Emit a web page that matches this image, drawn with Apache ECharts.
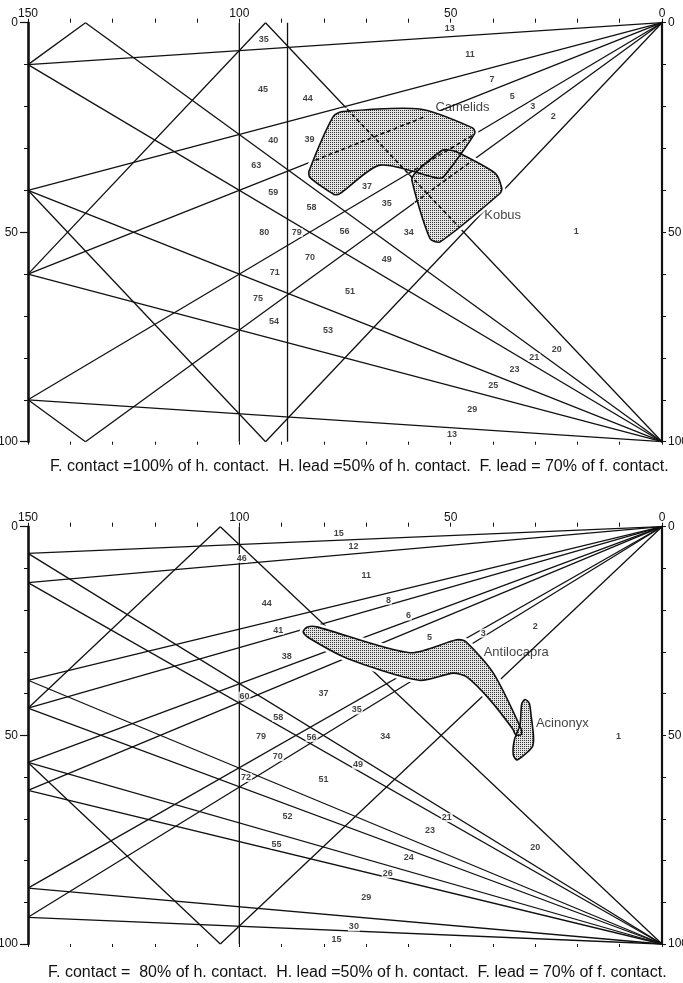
<!DOCTYPE html>
<html>
<head>
<meta charset="utf-8">
<script src="https://cdn.jsdelivr.net/npm/echarts@6/dist/echarts.min.js"></script>
<style>
  html, body { margin: 0; background: #fff; }
  #main { width: 683px; height: 983px; }
</style>
</head>
<body>
<div id="main"></div>
<script>
// axis values
var xTickLabels = [150, 100, 50, 0];
var yTickLabels = [0, 50, 100];

// upper diagram: segments [x1, y1, x2, y2]
var topLines = [
  [150, 10, 0, 0], [150, 40, 0, 0], [150, 60, 0, 0], [150, 90, 0, 0],
  [136.4, 100, 0, 0], [93.8, 100, 0, 0],
  [150, 10, 0, 100], [150, 40, 0, 100], [150, 60, 0, 100], [150, 90, 0, 100],
  [136.4, 0, 0, 100], [93.8, 0, 0, 100],
  [150, 10, 136.4, 0], [150, 60, 93.8, 0], [150, 90, 136.4, 100], [150, 40, 93.8, 100],
  [100, 0, 100, 100], [88.6, 0, 88.6, 100]
];
// parts of lines seen through the shaded areas
var topDashed = [
  [82, 32.8, 56, 22.4],
  [74.5, 20.6, 48, 48.8],
  [60, 36, 44.5, 26.7],
  [58.5, 42.9, 45, 33]
];
var camelids = [[77.8, 22.4], [75.5, 21.2], [57.3, 20.6], [44.8, 25.1], [44.3, 26.4], [51.7, 36.8],
  [53.2, 37.1], [66.7, 34], [76.2, 40.8], [77.6, 41], [83.3, 36.9], [83.5, 35.4]];
var kobus = [[50.5, 30.4], [48.6, 30.8], [39.5, 35.9], [37.9, 39.5], [38.3, 40.7], [52.5, 52.3],
  [54.9, 51.5], [59.2, 37.5], [58.4, 35.9], [52.1, 30.5]];
var topNumbers = [
  [50.2, 1.3, '13'], [45.4, 7.7, '11'], [40.2, 13.5, '7'], [35.4, 17.5, '5'], [30.6, 20, '3'],
  [25.7, 22.4, '2'], [20.3, 49.9, '1'], [94.2, 4.1, '35'], [94.4, 15.9, '45'], [83.8, 18, '44'],
  [92, 28.2, '40'], [83.4, 27.8, '39'], [96, 34.2, '63'], [92, 40.5, '59'], [82.9, 44, '58'],
  [69.8, 39.1, '37'], [65.1, 43.1, '35'], [94.1, 50.1, '80'], [86.4, 50.1, '79'], [75.1, 49.9, '56'],
  [59.9, 50.1, '34'], [83.3, 56, '70'], [65.1, 56.5, '49'], [91.6, 59.6, '71'], [73.8, 64.2, '51'],
  [95.6, 65.9, '75'], [91.8, 71.2, '54'], [79, 73.5, '53'], [24.9, 77.9, '20'], [30.2, 79.9, '21'],
  [34.9, 82.7, '23'], [39.9, 86.6, '25'], [44.9, 92.4, '29'], [49.7, 98.4, '13']
];
var topNames = [[47.2, 20.3, 'Camelids'], [37.7, 45.9, 'Kobus']];

// lower diagram
var botLines = [
  [150, 6.4, 0, 0], [150, 13.4, 0, 0], [150, 36.8, 0, 0], [150, 43.5, 0, 0],
  [150, 56.5, 0, 0], [150, 63.2, 0, 0], [150, 86.6, 0, 0], [150, 93.6, 0, 0], [104.5, 100, 0, 0],
  [150, 6.4, 0, 100], [150, 13.4, 0, 100], [150, 36.8, 0, 100], [150, 43.5, 0, 100],
  [150, 56.5, 0, 100], [150, 63.2, 0, 100], [150, 86.6, 0, 100], [150, 93.6, 0, 100], [104.5, 0, 0, 100],
  [150, 43.5, 104.5, 0], [150, 56.5, 104.5, 100],
  [100, 0, 100, 100]
];
var antilocapra = [[84.9, 25.2], [84, 24.1], [81.7, 24], [59.7, 30.2], [48.6, 27.1], [46.5, 27.5],
  [39.9, 35.1], [33.3, 48.5], [33.3, 49.8], [34.6, 49.9], [35.3, 48.5], [40.7, 41.5], [46.2, 36],
  [49.4, 35.1], [57.5, 36.8], [74.6, 31.5], [83.8, 26.5]];
var acinonyx = [[32.4, 41.4], [31.4, 42.3], [31, 45], [30.4, 50.3], [30.7, 52.8], [34.3, 55.9],
  [35.2, 54.6], [34.9, 51], [33.6, 47.5], [33.2, 42.5]];
var botNumbers = [
  [76.5, 1.6, '15'], [73, 4.8, '12'], [70, 11.8, '11'], [64.7, 17.6, '8'], [60, 21.4, '6'],
  [55, 26.6, '5'], [42.3, 25.5, '3'], [30, 23.8, '2'], [10.3, 50.2, '1'], [99.4, 7.6, '46'],
  [93.5, 18.4, '44'], [90.8, 24.8, '41'], [88.8, 31.2, '38'], [98.8, 40.6, '60'], [80.1, 39.9, '37'],
  [90.8, 45.7, '58'], [94.9, 50.3, '79'], [82.9, 50.5, '56'], [72.2, 43.9, '35'], [65.5, 50.2, '34'],
  [90.9, 55.1, '70'], [98.4, 60.1, '72'], [80.1, 60.5, '51'], [71.9, 57.1, '49'], [88.6, 69.5, '52'],
  [50.9, 69.7, '21'], [54.9, 72.8, '23'], [30, 76.9, '20'], [59.9, 79.3, '24'], [91.2, 76.1, '55'],
  [64.9, 83.1, '26'], [70, 88.9, '29'], [72.9, 95.9, '30'], [77, 99, '15']
];
var botNames = [[34.5, 30.2, 'Antilocapra'], [23.6, 47.1, 'Acinonyx']];

var captions = [
  'F. contact =100% of h. contact.  H. lead =50% of h. contact.  F. lead = 70% of f. contact.',
  'F. contact =  80% of h. contact.  H. lead =50% of h. contact.  F. lead = 70% of f. contact.'
];

var FONT = 'Liberation Sans';
var INK = '#111';

// stipple fill for the shaded areas
var dots = document.createElement('canvas');
dots.width = 2; dots.height = 2;
var g = dots.getContext('2d');
g.fillStyle = '#e4e4e4'; g.fillRect(0, 0, 2, 2);
g.fillStyle = '#333'; g.fillRect(0, 0, 1, 1);
var stipple = { image: dots, repeat: 'repeat' };

var myChart = echarts.init(document.getElementById('main'));

function segItem(width, dash) {
  return function (params, api) {
    var a = api.coord([api.value(0), api.value(1)]);
    var b = api.coord([api.value(2), api.value(3)]);
    return {
      type: 'line',
      shape: { x1: a[0], y1: a[1], x2: b[0], y2: b[1] },
      style: { stroke: INK, lineWidth: width, lineDash: dash || null }
    };
  };
}

function shapeItem(polys, mode) {
  return function (params, api) {
    var pts = polys[params.dataIndex].map(function (p) { return api.coord(p); });
    var style;
    if (mode === 'halo') style = { fill: '#fff', stroke: '#fff', lineWidth: 7, lineJoin: 'round' };
    else if (mode === 'fill') style = { fill: stipple, stroke: null };
    else style = { fill: null, stroke: INK, lineWidth: 1.6, lineJoin: 'round' };
    return { type: 'polygon', shape: { points: pts, smooth: 0.25 }, style: style };
  };
}

function xAxes(grid) {
  var common = {
    gridIndex: grid, type: 'value', min: 0, max: 150, interval: 10, inverse: true,
    axisLine: { show: false, onZero: false },
    splitLine: { show: false },
    axisTick: { show: true, length: 4, lineStyle: { color: INK, width: 1 } }
  };
  return [
    Object.assign({}, common, {
      position: 'top',
      axisLabel: {
        margin: 3, color: INK, fontFamily: FONT, fontSize: 12,
        formatter: function (v) { return xTickLabels.indexOf(v) >= 0 ? String(v) : ''; }
      }
    }),
    Object.assign({}, common, { position: 'bottom', axisTick: { show: true, length: 3, lineStyle: { color: INK, width: 1 } }, axisLabel: { show: false } })
  ];
}

function yAxes(grid) {
  var common = {
    gridIndex: grid, type: 'value', min: 0, max: 100, inverse: true,
    splitLine: { show: false },
    axisLabel: {
      color: INK, fontFamily: FONT, fontSize: 12,
      formatter: function (v) { return yTickLabels.indexOf(v) >= 0 ? String(v) : ''; }
    }
  };
  return [
    Object.assign({}, common, {
      position: 'left', interval: 50,
      axisLine: { show: true, onZero: false, lineStyle: { color: INK, width: 2.6 } },
      axisTick: { show: true, length: 8, lineStyle: { color: INK, width: 1.2 } },
      minorTick: { show: true, splitNumber: 5, length: 4, lineStyle: { color: INK, width: 1 } },
      axisLabel: Object.assign({}, common.axisLabel, { margin: 10 })
    }),
    Object.assign({}, common, {
      position: 'right', interval: 10,
      axisLine: { show: true, onZero: false, lineStyle: { color: INK, width: 2.2 } },
      axisTick: { show: true, length: 4, lineStyle: { color: INK, width: 1 } },
      axisLabel: Object.assign({}, common.axisLabel, { margin: 6 })
    })
  ];
}

function textSeries(ax, data, size, bold) {
  return {
    type: 'scatter', xAxisIndex: ax, yAxisIndex: ax, silent: true,
    symbolSize: 1, itemStyle: { color: 'rgba(0,0,0,0)' },
    data: data,
    label: {
      show: true, position: 'inside', color: INK, fontFamily: FONT,
      fontSize: size, fontWeight: bold ? 'bold' : 'normal',
      backgroundColor: bold ? '#fff' : 'transparent', padding: bold ? [0, 1] : 0,
      formatter: function (p) { return p.value[2]; }
    }
  };
}

function panelSeries(ax, lines, polys, dashed, numbers, names) {
  var base = { type: 'custom', coordinateSystem: 'cartesian2d', xAxisIndex: ax, yAxisIndex: ax, silent: true };
  var list = [
    Object.assign({}, base, { renderItem: segItem(1.3), data: lines, encode: { x: [0, 2], y: [1, 3] } }),
    Object.assign({}, base, { renderItem: shapeItem(polys, 'halo'), data: polys.map(function (p) { return p[0]; }) }),
    Object.assign({}, base, { renderItem: shapeItem(polys, 'fill'), data: polys.map(function (p) { return p[0]; }) }),
    Object.assign({}, base, { renderItem: shapeItem(polys, 'line'), data: polys.map(function (p) { return p[0]; }) })
  ];
  if (dashed.length) {
    list.push(Object.assign({}, base, { renderItem: segItem(1.6, [4, 3]), data: dashed, encode: { x: [0, 2], y: [1, 3] } }));
  }
  list.push(textSeries(ax, numbers, 9, true));
  list.push(textSeries(ax, names, 13, false));
  return list;
}

myChart.setOption({
  backgroundColor: '#fff',
  animation: false,
  title: [
    { text: captions[0], left: 50, top: 459, padding: 0, textStyle: { fontFamily: FONT, fontSize: 16, fontWeight: 'normal', color: INK } },
    { text: captions[1], left: 48, top: 965, padding: 0, textStyle: { fontFamily: FONT, fontSize: 16, fontWeight: 'normal', color: INK } }
  ],
  grid: [
    { left: 28, top: 22.7, width: 634, height: 419, outerBoundsMode: 'none' },
    { left: 28, top: 526.7, width: 634, height: 417.3, outerBoundsMode: 'none' }
  ],
  xAxis: xAxes(0).concat(xAxes(1)),
  yAxis: yAxes(0).concat(yAxes(1)),
  series: panelSeries(0, topLines, [camelids, kobus], topDashed, topNumbers, topNames)
    .concat(panelSeries(2, botLines, [acinonyx, antilocapra], [], botNumbers, botNames))
});

window.addEventListener('resize', function () {
  myChart.resize();
});
</script>
</body>
</html>
